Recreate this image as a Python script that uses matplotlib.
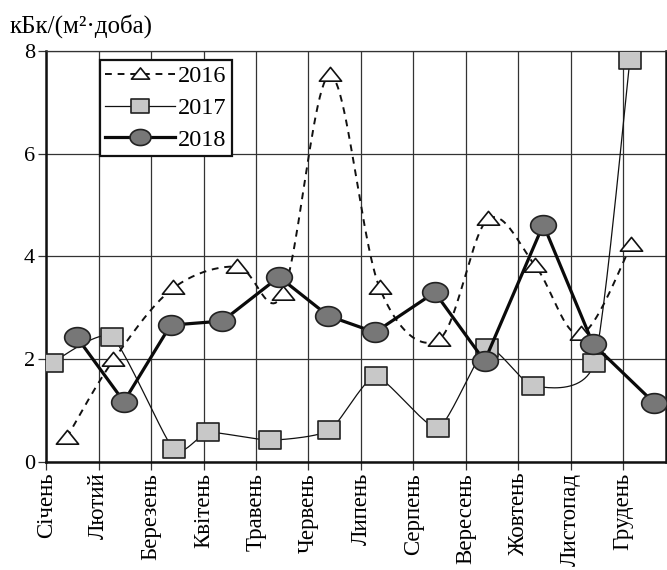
import numpy as np
import matplotlib
matplotlib.use('Agg')
import matplotlib.pyplot as plt
from matplotlib.path import Path
from matplotlib.lines import Line2D

months = ['Січень', 'Лютий', 'Березень', 'Квітень', 'Травень', 'Червень',
          'Липень', 'Серпень', 'Вересень', 'Жовтень', 'Листопад', 'Грудень']
yticks = [0, 2, 4, 6, 8]
x2016 = [0.39, 1.28, 2.42, 3.64, 4.51, 5.41, 6.36, 7.49, 8.42, 9.33, 10.19, 11.16]
y2016 = [0.47, 1.98, 3.38, 3.80, 3.27, 7.53, 3.38, 2.38, 4.72, 3.81, 2.48, 4.22]
x2017 = [0.10, 1.25, 2.43, 3.09, 4.27, 5.40, 6.28, 7.47, 8.40, 9.28, 10.45, 11.13]
y2017 = [1.92, 2.43, 0.24, 0.57, 0.42, 0.61, 1.66, 0.66, 2.22, 1.48, 1.92, 7.82]
x2018 = [0.58, 1.48, 2.37, 3.36, 4.44, 5.38, 6.27, 7.41, 8.36, 9.48, 10.43, 11.60]
y2018 = [2.43, 1.17, 2.66, 2.74, 3.60, 2.84, 2.52, 3.30, 1.96, 4.62, 2.29, 1.14]

plt.rcParams['font.family'] = ['Liberation Serif', 'DejaVu Serif']


def smooth(x, y, k=1 / 6, n=25):
    pts = np.column_stack([x, y]).astype(float)
    out = []
    for i in range(len(pts) - 1):
        p0 = pts[i - 1] if i > 0 else pts[i]
        p1 = pts[i]
        p2 = pts[i + 1]
        p3 = pts[i + 2] if i + 2 < len(pts) else pts[i + 1]
        c1 = p1 + (p2 - p0) * k
        c2 = p2 - (p3 - p1) * k
        t = np.linspace(0, 1, n)[:, None]
        seg = (1 - t) ** 3 * p1 + 3 * (1 - t) ** 2 * t * c1 + 3 * (1 - t) * t ** 2 * c2 + t ** 3 * p2
        out.append(seg if i == 0 else seg[1:])
    s = np.vstack(out)
    return s[:, 0], s[:, 1]


th = np.linspace(0, 2 * np.pi, 61)
ellipse = Path(np.column_stack([1.3 * np.cos(th), np.sin(th)]), closed=True)
rect = Path([(-1.27, -1), (1.27, -1), (1.27, 1), (-1.27, 1), (-1.27, -1)], closed=True)
tri = Path([(-1.37, -0.7), (1.37, -0.7), (0, 1.0), (-1.37, -0.7)], closed=True)

fig = plt.figure(figsize=(6.67, 5.70), dpi=100)
ax = fig.add_axes([0.0694, 0.190, 0.9291, 0.7205])

ax.set_xlim(0, 11.82)
ax.set_ylim(0, 8)
ax.set_xticks(range(len(months)))
ax.set_xticklabels(months, rotation=90, fontsize=16.5)
ax.set_yticks(yticks)
ax.set_yticklabels([str(v) for v in yticks], fontsize=16)
ax.grid(True, color='#333333', lw=0.9)
ax.set_axisbelow(True)
ax.tick_params(axis='both', direction='out', length=6, width=0.9, color='#333333', pad=2)
for s in ['left', 'bottom', 'right']:
    ax.spines[s].set_linewidth(1.8)
    ax.spines[s].set_color('#111111')
ax.spines['top'].set_linewidth(0.9)
ax.spines['top'].set_color('#333333')

# 2016
sx, sy = smooth(x2016, y2016)
ax.plot(sx, sy, color='#111111', lw=1.4, ls=(0, (3.5, 3)), zorder=3)
ax.plot(x2016, y2016, ls='none', marker=tri, ms=16, mfc='white', mec='#111111', mew=1.2, zorder=4)
# 2017
sx, sy = smooth(x2017, y2017, k=0.1)
ax.plot(sx, sy, color='#111111', lw=0.9, zorder=5)
ax.plot(x2017, y2017, ls='none', marker=rect, ms=16.5, mfc='#c8c8c8', mec='#222222', mew=1.2, zorder=6)
# 2018
ax.plot(x2018, y2018, color='#0a0a0a', lw=2.3, zorder=7)
ax.plot(x2018, y2018, ls='none', marker=ellipse, ms=18.5, mfc='#777777', mec='#222222', mew=1.2, zorder=8)

handles = [
    Line2D([], [], color='#111111', lw=1.4, ls=(0, (3.5, 3)), marker=tri, ms=13, mfc='white', mec='#111111', mew=1.2),
    Line2D([], [], color='#111111', lw=0.9, marker=rect, ms=13.5, mfc='#c8c8c8', mec='#222222', mew=1.2),
    Line2D([], [], color='#0a0a0a', lw=2.3, marker=ellipse, ms=15, mfc='#777777', mec='#222222', mew=1.2),
]
leg = ax.legend(handles, ['2016', '2017', '2018'], loc='upper left',
                bbox_to_anchor=(0.086, 0.978), fontsize=17.5, frameon=True, fancybox=False,
                handlelength=2.9, handletextpad=0.1, borderpad=0.22, labelspacing=0.4,
                borderaxespad=0)
leg.get_frame().set_edgecolor('#111111')
leg.get_frame().set_linewidth(1.6)
leg.get_frame().set_alpha(1)
leg.set_zorder(10)

fig.text(0.015, 0.943, 'кБк/(м²·доба)', fontsize=18, ha='left', va='baseline')

fig.savefig('out.png', dpi=100)
